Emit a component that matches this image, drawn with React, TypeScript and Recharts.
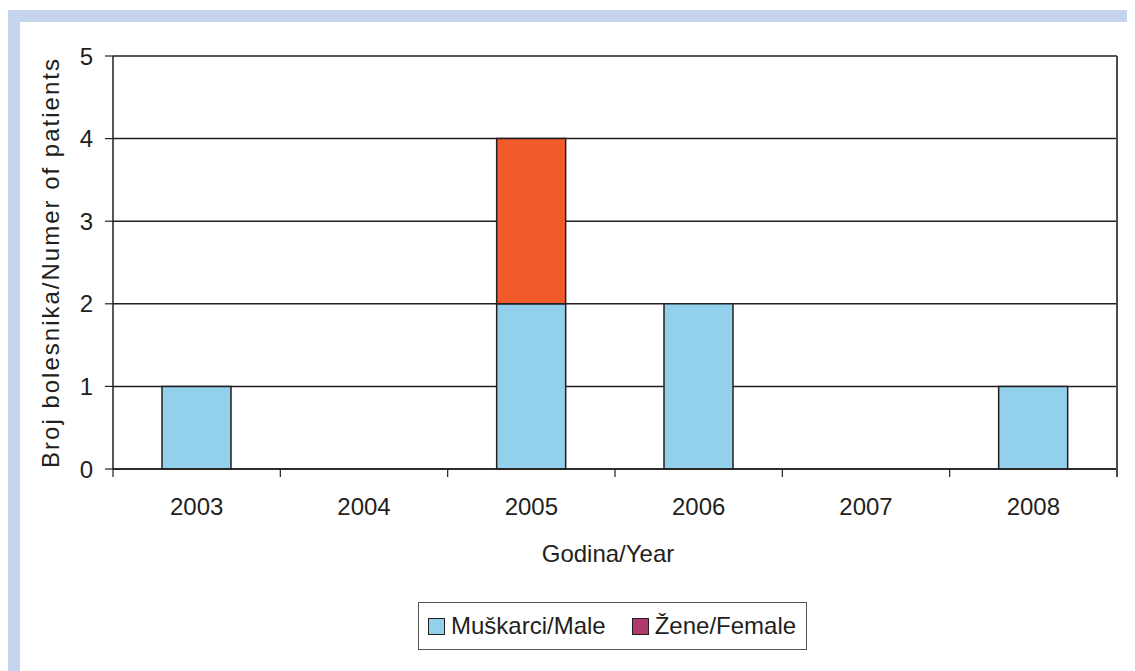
import React from "react";
import { BarChart, Bar, XAxis, YAxis, CartesianGrid } from "recharts";

// godine i broj bolesnika po spolu
const years: string[] = ["2003", "2004", "2005", "2006", "2007", "2008"];
const male: number[] = [1, 0, 2, 2, 0, 1];
const female: number[] = [0, 0, 2, 0, 0, 0];
const yTicks: number[] = [0, 1, 2, 3, 4, 5];

const INK = "#231f20";
const FONT = '"Liberation Sans", Arial, Helvetica, sans-serif';
const MALE_COLOR = "#92d0ec";
const FEMALE_COLOR = "#f15a29";
const FEMALE_LEGEND = "#b03a6e";
const FRAME = "#c5d5ee";

const CHART_W = 1127;
const MARGIN = { top: 48, right: 18, left: 10, bottom: 39 };
const Y_AXIS_W = 95;
const BAND = (CHART_W - MARGIN.left - MARGIN.right - Y_AXIS_W) / years.length;
const TICK_SIZE = 8;
const TICK_MARGIN = 21;

const data = years.map((year, i) => ({ year, male: male[i], female: female[i] }));

const legendItems = [
  { label: "Muškarci/Male", color: MALE_COLOR },
  { label: "Žene/Female", color: FEMALE_LEGEND },
];

// oznaka godine + crtice na granicama kategorija (zadnja crtica nastavlja se kao desni rub)
function YearTick(props: any) {
  const { x, y, payload, index } = props;
  const y0 = y - TICK_SIZE - TICK_MARGIN;
  const last = index === years.length - 1;
  return (
    <g>
      <line x1={x - BAND / 2} x2={x - BAND / 2} y1={y0} y2={y0 + TICK_SIZE} stroke={INK} strokeWidth={1.2} />
      {last && (
        <line
          x1={x + BAND / 2}
          x2={x + BAND / 2}
          y1={MARGIN.top}
          y2={y0 + TICK_SIZE}
          stroke="#4a4a4a"
          strokeWidth={2}
        />
      )}
      <text x={x} y={y} dy="0.71em" textAnchor="middle" fill={INK} fontSize={24}>
        {payload.value}
      </text>
    </g>
  );
}

export default function App(): React.ReactElement {
  return (
    <div style={{ position: "relative", width: 1127, height: 663, fontFamily: FONT }}>
      {/* plavi okvir gore i lijevo */}
      <div style={{ position: "absolute", left: 0, top: 2, width: 1127, height: 12, background: FRAME }} />
      <div style={{ position: "absolute", left: 0, top: 2, width: 12, height: 661, background: FRAME }} />

      <div style={{ position: "absolute", left: 0, top: 0 }}>
        <BarChart width={CHART_W} height={600} data={data} margin={MARGIN} style={{ fontFamily: FONT }}>
          <CartesianGrid vertical={false} stroke={INK} strokeWidth={1.5} />
          <XAxis
            dataKey="year"
            height={100}
            tickLine={false}
            tickSize={TICK_SIZE}
            tickMargin={TICK_MARGIN}
            interval={0}
            axisLine={{ stroke: INK, strokeWidth: 1.5 }}
            tick={<YearTick />}
            label={{ value: "Godina/Year", position: "insideBottom", offset: 7, dx: -7, fill: INK, fontSize: 24 }}
          />
          <YAxis
            width={Y_AXIS_W}
            domain={[0, 5]}
            ticks={yTicks}
            allowDecimals={false}
            tickSize={8}
            tickMargin={12}
            axisLine={{ stroke: INK, strokeWidth: 1.5 }}
            tickLine={{ stroke: INK, strokeWidth: 1.2 }}
            tick={{ fill: INK, fontSize: 24 }}
            label={{
              value: "Broj bolesnika/Numer of patients",
              angle: -90,
              position: "insideLeft",
              offset: 32,
              fill: INK,
              fontSize: 24,
              style: { textAnchor: "middle", letterSpacing: 2 },
            }}
          />
          <Bar
            dataKey="male"
            name="Muškarci/Male"
            stackId="a"
            barSize={69}
            fill={MALE_COLOR}
            stroke={INK}
            strokeWidth={1.5}
            isAnimationActive={false}
          />
          <Bar
            dataKey="female"
            name="Žene/Female"
            stackId="a"
            barSize={69}
            fill={FEMALE_COLOR}
            stroke={INK}
            strokeWidth={1.5}
            isAnimationActive={false}
          />
        </BarChart>
      </div>

      {/* legenda */}
      <div
        style={{
          position: "absolute",
          left: 410,
          top: 594,
          width: 389,
          height: 48,
          border: "1.5px solid #555",
          display: "flex",
          alignItems: "center",
          paddingLeft: 9,
          boxSizing: "border-box",
          color: INK,
          fontSize: 24,
        }}
      >
        {legendItems.map((item) => (
          <div key={item.label} style={{ display: "flex", alignItems: "center", marginRight: 26 }}>
            <span
              style={{
                display: "inline-block",
                width: 15,
                height: 15,
                background: item.color,
                border: `1.5px solid ${INK}`,
                marginRight: 6,
              }}
            />
            <span>{item.label}</span>
          </div>
        ))}
      </div>
    </div>
  );
}
